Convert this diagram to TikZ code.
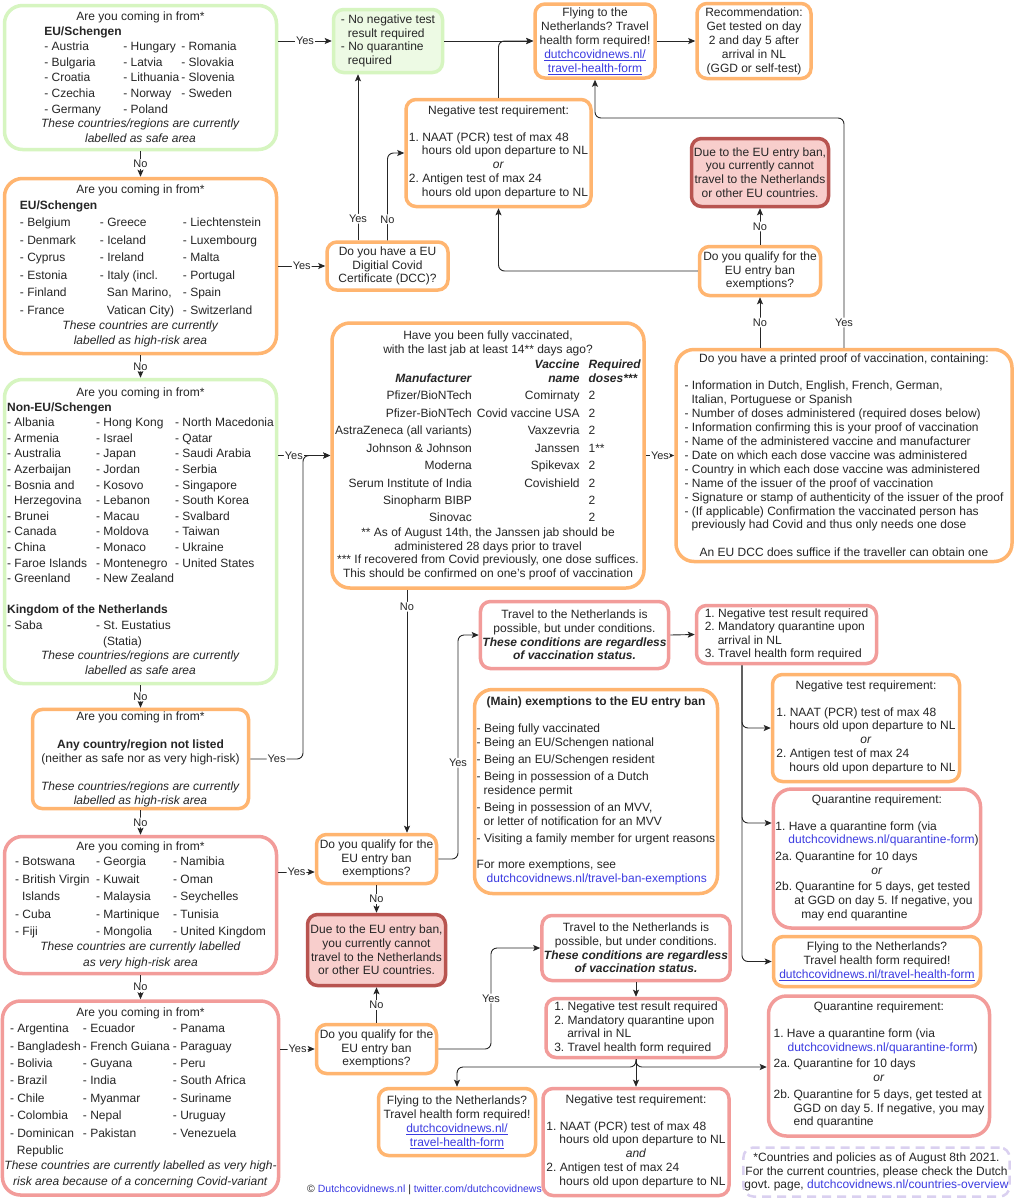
\documentclass[tikz,border=0pt]{standalone}
\usepackage{fontspec}
\setmainfont{Liberation Sans}
\usetikzlibrary{arrows.meta}
\frenchspacing

\definecolor{safeline}{RGB}{214,245,192}
\definecolor{safefill}{RGB}{237,250,228}
\definecolor{highline}{RGB}{255,181,112}
\definecolor{vhighline}{RGB}{242,156,154}
\definecolor{banline}{RGB}{184,84,80}
\definecolor{banfill}{RGB}{248,206,204}
\definecolor{noteline}{RGB}{218,208,240}
\definecolor{linkblue}{RGB}{60,60,225}

\newcommand{\lnk}[1]{\textcolor{linkblue}{\underline{#1}}}
\newcommand{\weblink}[1]{\textcolor{linkblue}{#1}}
\newcommand{\negtest}[1]{Negative test requirement:\\[13.7pt]%
\begin{tabular}{@{}l@{}}1. NAAT (PCR) test of max 48\\
\hspace*{13pt}hours old upon departure to NL\\
\multicolumn{1}{@{}c@{}}{\textit{#1}}\\
2. Antigen test of max 24\\
\hspace*{13pt}hours old upon departure to NL\end{tabular}}
\newcommand{\qualtext}{Do you qualify for the\\EU entry ban\\exemptions?}
\newcommand{\bantext}{Due to the EU entry ban,\\you currently cannot\\travel to the Netherlands\\or other EU countries.}
\newcommand{\possibletext}{Travel to the Netherlands is\\possible, but under conditions.\\\textbf{\textit{These conditions are regardless}}\\\textbf{\textit{of vaccination status.}}}
\newcommand{\condtext}{1. Negative test result required\\2. Mandatory quarantine upon\\\hspace*{13pt}arrival in NL\\3. Travel health form required}

\begin{document}
\begin{tikzpicture}[x=1pt, y=-1pt,
    box/.style={draw, rounded corners=10pt, line width=3.5pt, fill=white, align=center, inner sep=2pt, text=black!85, font=\fontsize{12}{13.7}\selectfont},
    bigbox/.style={rounded corners=18pt},
    safebox/.style={box, draw=safeline},
    highbox/.style={box, draw=highline},
    vhighbox/.style={box, draw=vhighline},
    banbox/.style={box, draw=banline, fill=banfill},
    notebox/.style={box, draw=noteline, dash pattern=on 9pt off 6pt, line width=2.5pt, inner sep=1pt},
    countries/.style={font=\fontsize{12}{15.6}\selectfont},
    arr/.style={draw=black!85, line width=0.9pt, rounded corners=6pt, -{Stealth[length=7pt, width=6pt, inset=1.5pt]}},
    lbl/.style={fill=white, inner sep=1pt, text=black!85, font=\fontsize{11}{12}\selectfont}]
  \fill[white] (0,0) rectangle (1016,1200);
  \useasboundingbox (0,0) rectangle (1016,1200);

  % left column: areas
  \node[safebox, bigbox, countries, minimum width=272pt, minimum height=144pt] (euSafe) at (140.5,77.5) {Are you coming in from*\\
    \begin{tabular}{@{}p{79pt}@{}p{58pt}@{}l@{}}
    \multicolumn{3}{@{}l@{}}{\textbf{EU/Schengen}}\\
    - Austria & - Hungary & - Romania\\
    - Bulgaria & - Latvia & - Slovakia\\
    - Croatia & - Lithuania & - Slovenia\\
    - Czechia & - Norway & - Sweden\\
    - Germany & - Poland &
    \end{tabular}\\
    \textit{These countries/regions are currently}\\
    \textit{labelled as safe area}};
  \node[highbox, bigbox, countries, minimum width=272pt, minimum height=175pt] (euHigh) at (140.5,266) {Are you coming in from*\\
    {\renewcommand{\arraystretch}{1.12}%
    \begin{tabular}{@{}p{80pt}@{}p{83pt}@{}l@{}}
    \multicolumn{3}{@{}l@{}}{\textbf{EU/Schengen}}\\
    - Belgium & - Greece & - Liechtenstein\\
    - Denmark & - Iceland & - Luxembourg\\
    - Cyprus & - Ireland & - Malta\\
    - Estonia & - Italy (incl. & - Portugal\\
    - Finland & \hspace*{7pt}San Marino, & - Spain\\
    - France & \hspace*{7pt}Vatican City) & - Switzerland
    \end{tabular}}\\
    \textit{These countries are currently}\\
    \textit{labelled as high-risk area}};
  \node[safebox, bigbox, countries, minimum width=272pt, minimum height=304pt] (nonEu) at (140.5,531.5) {Are you coming in from*\\
    \begin{tabular}{@{}p{89pt}@{}p{79pt}@{}l@{}}
    \multicolumn{3}{@{}l@{}}{\textbf{Non-EU/Schengen}}\\
    - Albania & - Hong Kong & - North Macedonia\\
    - Armenia & - Israel & - Qatar\\
    - Australia & - Japan & - Saudi Arabia\\
    - Azerbaijan & - Jordan & - Serbia\\
    - Bosnia and & - Kosovo & - Singapore\\
    \hspace*{7pt}Herzegovina & - Lebanon & - South Korea\\
    - Brunei & - Macau & - Svalbard\\
    - Canada & - Moldova & - Taiwan\\
    - China & - Monaco & - Ukraine\\
    - Faroe Islands & - Montenegro & - United States\\
    - Greenland & - New Zealand & \\[15.6pt]
    \multicolumn{3}{@{}l@{}}{\textbf{Kingdom of the Netherlands}}\\
    - Saba & - St. Eustatius & \\
     & \hspace*{7pt}(Statia) &
    \end{tabular}\\
    \textit{These countries/regions are currently}\\
    \textit{labelled as safe area}};
  \node[highbox, font=\fontsize{12}{14}\selectfont, minimum width=216pt, minimum height=99pt] (anyC) at (140.5,759) {Are you coming in from*\\[14pt]
    \textbf{Any country/region not listed}\\
    (neither as safe nor as very high-risk)\\[14pt]
    \textit{These countries/regions are currently}\\
    \textit{labelled as high-risk area}};
  \node[vhighbox, bigbox, countries, minimum width=272pt, minimum height=137pt] (vHigh) at (140.5,905) {Are you coming in from*\\
    {\renewcommand{\arraystretch}{1.12}%
    \begin{tabular}{@{}p{81pt}@{}p{77pt}@{}l@{}}
    - Botswana & - Georgia & - Namibia\\
    - British Virgin & - Kuwait & - Oman\\
    \hspace*{7pt}Islands & - Malaysia & - Seychelles\\
    - Cuba & - Martinique & - Tunisia\\
    - Fiji & - Mongolia & - United Kingdom
    \end{tabular}}\\
    \textit{These countries are currently labelled}\\
    \textit{as very high-risk area}};
  \node[vhighbox, bigbox, countries, minimum width=272pt, minimum height=194pt] (variant) at (140.5,1098) {Are you coming in from*\\
    {\renewcommand{\arraystretch}{1.12}%
    \begin{tabular}{@{}p{73pt}@{}p{90pt}@{}p{98pt}@{}}
    - Argentina & - Ecuador & - Panama\\
    - Bangladesh & - French Guiana & - Paraguay\\
    - Bolivia & - Guyana & - Peru\\
    - Brazil & - India & - South Africa\\
    - Chile & - Myanmar & - Suriname\\
    - Colombia & - Nepal & - Uruguay\\
    - Dominican & - Pakistan & - Venezuela\\
    \hspace*{7pt}Republic & &
    \end{tabular}}\\
    \textit{These countries are currently labelled as very high-}\\
    \textit{risk area because of a concerning Covid-variant}};

  % top row
  \node[safebox, fill=safefill, align=left, font=\fontsize{12}{13.5}\selectfont, minimum width=109pt, minimum height=63pt] (noTest) at (388,41) {- No negative test\\\hspace*{7pt}result required\\- No quarantine\\\hspace*{7pt}required};
  \node[highbox, font=\fontsize{12}{14}\selectfont, minimum width=120pt, minimum height=74pt] (flyTop) at (595,41) {Flying to the\\Netherlands? Travel\\health form required!\\\lnk{dutchcovidnews.nl/}\\\lnk{travel-health-form}};
  \node[highbox, font=\fontsize{12}{14}\selectfont, minimum width=114pt, minimum height=75pt] (recTest) at (754,41) {Recommendation:\\Get tested on day\\2 and day 5 after\\arrival in NL\\(GGD or self-test)};
  \node[highbox, minimum width=185pt, minimum height=107pt] (negTop) at (498.5,153) {\negtest{or}};
  \node[highbox, font=\fontsize{12}{13.5}\selectfont, minimum width=121pt, minimum height=48pt] (dcc) at (387.5,266) {Do you have a EU\\Digitial Covid\\Certificate (DCC)?};
  \node[banbox, minimum width=137pt, minimum height=68pt] (banTop) at (760,172.5) {\bantext};
  \node[highbox, minimum width=121pt, minimum height=49pt] (qualTop) at (760,271) {\qualtext};

  % vaccination
  \node[highbox, bigbox, font=\fontsize{12}{13.6}\selectfont, minimum width=312pt, minimum height=265pt] (vacc) at (488,455.5) {Have you been fully vaccinated,\\
    with the last jab at least 14** days ago?\\
    {\renewcommand{\arraystretch}{1.28}%
    \begin{tabular}{@{}r@{\hspace{5pt}}r@{\hspace{9pt}}l@{}}
     & \textbf{\textit{Vaccine}} & \textbf{\textit{Required}}\\[-3.8pt]
    \textbf{\textit{Manufacturer}} & \textbf{\textit{name}} & \textbf{\textit{doses***}}\\
    Pfizer/BioNTech & Comirnaty & 2\\
    Pfizer-BioNTech & Covid vaccine USA & 2\\
    AstraZeneca (all variants) & Vaxzevria & 2\\
    Johnson \& Johnson & Janssen & 1**\\
    Moderna & Spikevax & 2\\
    Serum Institute of India & Covishield & 2\\
    Sinopharm BIBP & & 2\\
    Sinovac & & 2
    \end{tabular}}\\
    ** As of August 14th, the Janssen jab should be\\
    administered 28 days prior to travel\\
    *** If recovered from Covid previously, one dose suffices.\\
    This should be confirmed on one's proof of vaccination};
  \node[highbox, bigbox, font=\fontsize{12}{13.9}\selectfont, minimum width=336pt, minimum height=212pt] (proof) at (844,455.5) {Do you have a printed proof of vaccination, containing:\\[13.9pt]
    \begin{tabular}{@{}l@{}}
    - Information in Dutch, English, French, German,\\
    \hspace*{7pt}Italian, Portuguese or Spanish\\
    - Number of doses administered (required doses below)\\
    - Information confirming this is your proof of vaccination\\
    - Name of the administered vaccine and manufacturer\\
    - Date on which each dose vaccine was administered\\
    - Country in which each dose vaccine was administered\\
    - Name of the issuer of the proof of vaccination\\
    - Signature or stamp of authenticity of the issuer of the proof\\
    - (If applicable) Confirmation the vaccinated person has\\
    \hspace*{7pt}previously had Covid and thus only needs one dose
    \end{tabular}\\[13.9pt]
    An EU DCC does suffice if the traveller can obtain one};

  % middle: entry ban
  \node[vhighbox, minimum width=188pt, minimum height=67pt] (travelA) at (574.5,635) {\possibletext};
  \node[vhighbox, align=left, font=\fontsize{12}{13.5}\selectfont, minimum width=180pt, minimum height=58pt] (condA) at (786.5,634.5) {\condtext};
  \node[highbox, bigbox, font=\fontsize{12}{14}\selectfont, minimum width=243pt, minimum height=204pt] (exempt) at (596,791.5) {\textbf{(Main) exemptions to the EU entry ban}\\[14pt]
    \begin{tabular}{@{}l@{}}
    - Being fully vaccinated\\
    - Being an EU/Schengen national\\[3pt]
    - Being an EU/Schengen resident\\[3pt]
    - Being in possession of a Dutch\\
    \hspace*{7pt}residence permit\\[3pt]
    - Being in possession of an MVV,\\
    \hspace*{7pt}or letter of notification for an MVV\\[3pt]
    - Visiting a family member for urgent reasons\\[12pt]
    For more exemptions, see\\
    \hspace*{10pt}\weblink{dutchcovidnews.nl/travel-ban-exemptions}
    \end{tabular}};
  \node[highbox, minimum width=120pt, minimum height=49pt] (qualMid) at (376.5,859) {\qualtext};
  \node[highbox, minimum width=187pt, minimum height=107pt] (negR) at (866,728) {\negtest{or}};
  \node[vhighbox, bigbox, minimum width=207pt, minimum height=139pt] (quarR) at (877,858.5) {Quarantine requirement:\\[13.7pt]
    \begin{tabular}{@{}l@{}}
    1. Have a quarantine form (via\\
    \hspace*{13pt}\weblink{dutchcovidnews.nl/quarantine-form})\\[3pt]
    2a. Quarantine for 10 days\\
    \multicolumn{1}{@{}c@{}}{\textit{or}}\\[3pt]
    2b. Quarantine for 5 days, get tested\\
    \hspace*{19pt}at GGD on day 5. If negative, you\\
    \hspace*{26pt}may end quarantine
    \end{tabular}};
  \node[highbox, font=\fontsize{12}{14}\selectfont, minimum width=207pt, minimum height=50pt] (flyR) at (877,961.5) {Flying to the Netherlands?\\Travel health form required!\\\lnk{dutchcovidnews.nl/travel-health-form}};
  \node[banbox, minimum width=138pt, minimum height=71pt] (banMid) at (376.5,950) {\bantext};

  % bottom: very high-risk
  \node[vhighbox, minimum width=186pt, minimum height=65pt] (travelB) at (636,948) {\possibletext};
  \node[vhighbox, align=left, font=\fontsize{12}{13.5}\selectfont, minimum width=180pt, minimum height=59pt] (condB) at (636,1028) {\condtext};
  \node[highbox, minimum width=120pt, minimum height=49pt] (qualBot) at (376.5,1049) {\qualtext};
  \node[vhighbox, bigbox, minimum width=221pt, minimum height=140pt] (quarBot) at (879,1066) {Quarantine requirement:\\[13.7pt]
    \begin{tabular}{@{}l@{}}
    1. Have a quarantine form (via\\
    \hspace*{14pt}\weblink{dutchcovidnews.nl/quarantine-form})\\[3pt]
    2a. Quarantine for 10 days\\
    \multicolumn{1}{@{}c@{}}{\textit{or}}\\[3pt]
    2b. Quarantine for 5 days, get tested at\\
    \hspace*{20pt}GGD on day 5. If negative, you may\\
    \hspace*{20pt}end quarantine
    \end{tabular}};
  \node[highbox, font=\fontsize{12}{14}\selectfont, minimum width=157pt, minimum height=67pt] (flyBot) at (457,1122) {Flying to the Netherlands?\\Travel health form required!\\\lnk{dutchcovidnews.nl/}\\\lnk{travel-health-form}};
  \node[vhighbox, minimum width=186pt, minimum height=107pt] (negBot) at (636,1142) {\negtest{and}};
  \node[notebox, font=\fontsize{12}{13.5}\selectfont, minimum width=265pt, minimum height=49pt] (note) at (876.5,1172) {*Countries and policies as of August 8th 2021.\\For the current countries, please check the Dutch\\govt. page, \weblink{dutchcovidnews.nl/countries-overview}};
  \node[inner sep=0pt, text=black!85, font=\fontsize{10.5}{12}\selectfont] (credit) at (424.5,1190) {© \weblink{Dutchcovidnews.nl} | \weblink{twitter.com/dutchcovidnews}};

  % bend points
  \coordinate (yesG) at (358,0);
  \coordinate (mergeL) at (303,0);
  \coordinate (kTurn) at (844,118);
  \coordinate (noJ) at (407,0);
  \coordinate (yesU) at (0,872);
  \coordinate (yesQ) at (458,0);
  \coordinate (yesY) at (491,0);
  \coordinate (branchA) at (742,0);
  \coordinate (quarIn) at (0,823);
  \coordinate (branchB) at (0,1067);

  % connectors
  \draw[arr] (euSafe.east |- noTest.west) -- node[lbl]{Yes} (noTest.west);
  \draw[arr] (noTest.east) -- (flyTop.west);
  \draw[arr] (flyTop.east) -- (recTest.west);
  \draw[arr] (negTop.north) |- (flyTop.west);
  \draw[arr] (euSafe.south) -- node[lbl]{No} (euHigh.north);
  \draw[arr] (euHigh.east |- dcc.west) -- node[lbl]{Yes} (dcc.west);
  \draw[arr] (dcc.north -| yesG) -- node[lbl, pos=0.13]{Yes} (noTest.south -| yesG);
  \draw[arr] (dcc.north) |- node[lbl, pos=0.12]{No} (negTop.west);
  \draw[arr] (euHigh.south) -- node[lbl]{No} (nonEu.north);
  \draw[arr] (nonEu.east |- vacc.west) -- node[lbl, pos=0.3]{Yes} (vacc.west);
  \draw[arr] (nonEu.south) -- node[lbl]{No} (anyC.north);
  \draw[arr] (anyC.east) -- node[lbl]{Yes} (anyC.east -| mergeL) -- (vacc.west -| mergeL) -- (vacc.west);
  \draw[arr] (vacc.east) -- node[lbl]{Yes} (proof.west |- vacc.east);
  \draw[arr] (proof.north -| qualTop.south) -- node[lbl]{No} (qualTop.south);
  \draw[arr] (qualTop.north) -- node[lbl]{No} (banTop.south);
  \draw[arr] (proof.north -| kTurn) -- node[lbl, pos=0.11]{Yes} (kTurn) -| (flyTop.south);
  \draw[arr] (qualTop.west) -| (negTop.south);
  \draw[arr] (vacc.south -| noJ) -- node[lbl, pos=0.07]{No} (qualMid.north -| noJ);
  \draw[arr] (anyC.south) -- node[lbl]{No} (vHigh.north);
  \draw[arr] (vHigh.east |- yesU) -- node[lbl]{Yes} (qualMid.west |- yesU);
  \draw[arr] (qualMid.east) -- (qualMid.east -| yesQ) -- node[lbl, pos=0.43]{Yes} (travelA.west -| yesQ) -- (travelA.west);
  \draw[arr] (travelA.east) -- (condA.west);
  \draw[arr] (condA.south -| branchA) |- (negR.west);
  \draw[arr] (condA.south -| branchA) |- (quarR.west |- quarIn);
  \draw[arr] (condA.south -| branchA) |- (flyR.west);
  \draw[arr] (qualMid.south) -- node[lbl]{No} (banMid.north);
  \draw[arr] (vHigh.south) -- node[lbl]{No} (variant.north);
  \draw[arr] (variant.east |- qualBot.west) -- node[lbl]{Yes} (qualBot.west);
  \draw[arr] (qualBot.north) -- node[lbl]{No} (banMid.south);
  \draw[arr] (qualBot.east) -- (qualBot.east -| yesY) -- node[lbl]{Yes} (travelB.west -| yesY) -- (travelB.west);
  \draw[arr] (travelB.south) -- (condB.north);
  \draw[arr] (condB.south) -- (negBot.north);
  \draw[arr] (condB.south) -- (condB.south |- branchB) -| (flyBot.north);
  \draw[arr] (condB.south) |- (quarBot.west |- branchB);
\end{tikzpicture}
\end{document}
